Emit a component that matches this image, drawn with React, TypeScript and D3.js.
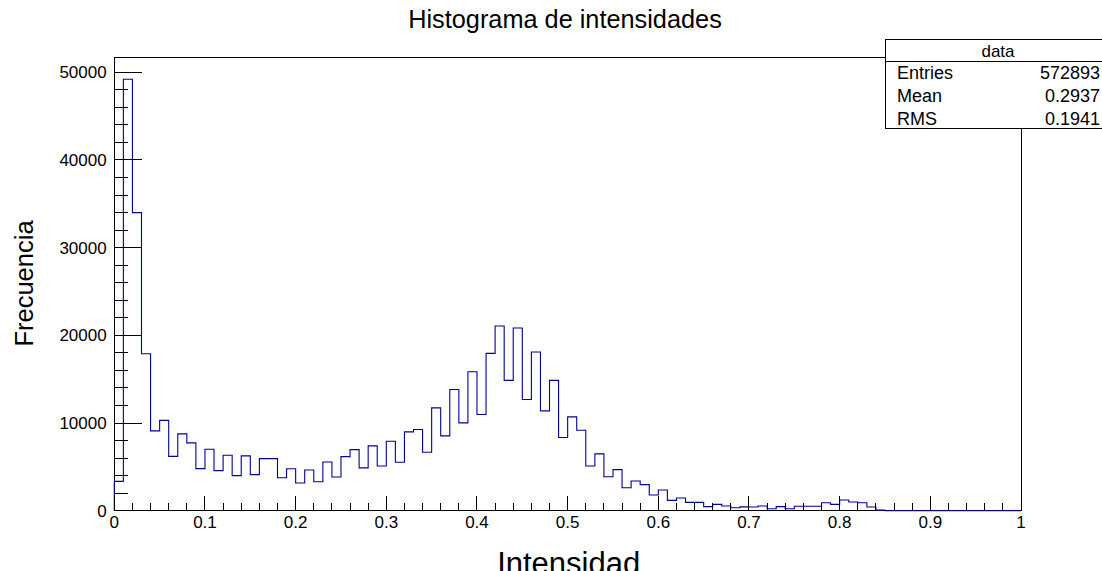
import React from "react";
import * as d3 from "d3";

// ---- data (100 bins from 0 to 1) ----
const binLow = 0;
const binHigh = 1;
const counts: number[] = [
  3350, 49200, 34000, 17900, 9100, 10300, 6200, 8760, 7730, 4800,
  7010, 4570, 6320, 4000, 6250, 4110, 5940, 5940, 3750, 4780,
  3160, 4650, 3310, 5560, 3850, 6170, 6970, 4880, 7390, 5100,
  7920, 5520, 8990, 9260, 6670, 11730, 8530, 13830, 10020, 15850,
  10970, 17940, 21070, 14860, 20840, 12690, 18100, 11390, 14860, 8340,
  10700, 9180, 5100, 6480, 3880, 4690, 2610, 3390, 2970, 1790,
  2360, 1180, 1450, 950, 950, 460, 720, 530, 340, 440,
  420, 530, 230, 460, 230, 500, 500, 500, 910, 720,
  1220, 990, 910, 420, 80, 0, 0, 0, 0, 0,
  0, 0, 0, 0, 0, 0, 0, 0, 0, 0,
];
const xMajorTicks = [0, 0.1, 0.2, 0.3, 0.4, 0.5, 0.6, 0.7, 0.8, 0.9, 1];
const xTickLabels = ["0", "0.1", "0.2", "0.3", "0.4", "0.5", "0.6", "0.7", "0.8", "0.9", "1"];
const yMajorTicks = [0, 10000, 20000, 30000, 40000, 50000];
const yTickLabels = ["0", "10000", "20000", "30000", "40000", "50000"];
const title = "Histograma de intensidades";
const xTitle = "Intensidad";
const yTitle = "Frecuencia";
const statsName = "data";
const statsLabels = ["Entries", "Mean", "RMS"];
const statsValues = ["572893", "0.2937", "0.1941"];

const W = 1102;
const H = 571;
const FONT = "'Liberation Sans', Arial, Helvetica, sans-serif";

export default function App() {
  const left = 114.3, right = 1021, top = 57.3, bottom = 510.7;
  const ymax = d3.max(counts)! * 1.051;
  const x = d3.scaleLinear().domain([binLow, binHigh]).range([left, right]);
  const y = d3.scaleLinear().domain([0, ymax]).range([bottom, top]);
  const nb = counts.length;
  const bw = (binHigh - binLow) / nb;

  const pts: [number, number][] = [[binLow, 0]];
  counts.forEach((c, i) => pts.push([binLow + i * bw, c]));
  pts.push([binHigh, counts[nb - 1]]);
  pts.push([binHigh, 0]);
  const line = d3
    .line<[number, number]>()
    .x((d) => x(d[0]))
    .y((d) => y(d[1]))
    .curve(d3.curveStepAfter);
  const histPath = line(pts) || "";

  const xMinor = d3.range(0, 51).map((i) => i * 0.02).filter((v) => Math.round(v * 100) % 10 !== 0);
  const yMinor = d3.range(0, 26).map((i) => i * 2000).filter((v) => v % 10000 !== 0 && v <= ymax);

  const sx = 885, sy = 39.3, sw = 240, sh = 89;

  return (
    <svg
      width={W}
      height={H}
      style={{ position: "absolute", left: 0, top: 0, background: "#fff" }}
      fontFamily={FONT}
    >
      <rect x={0} y={0} width={W} height={H} fill="#fff" />
      {/* frame */}
      <rect x={left} y={top} width={right - left} height={bottom - top} fill="none" stroke="#000" strokeWidth={1} shapeRendering="crispEdges" />
      {/* histogram */}
      <path d={histPath} fill="none" stroke="#000099" strokeWidth={1.1} />
      {/* x axis ticks */}
      {xMajorTicks.map((t) => (
        <line key={"xM" + t} x1={x(t)} x2={x(t)} y1={bottom} y2={bottom - 14.5} stroke="#000" shapeRendering="crispEdges" />
      ))}
      {xMinor.map((t) => (
        <line key={"xm" + t} x1={x(t)} x2={x(t)} y1={bottom} y2={bottom - 7.5} stroke="#000" shapeRendering="crispEdges" />
      ))}
      {xMajorTicks.map((t, i) => (
        <text key={"xl" + t} x={x(t)} y={528} fontSize={17} textAnchor="middle" fill="#000">
          {xTickLabels[i]}
        </text>
      ))}
      {/* y axis ticks */}
      {yMajorTicks.map((t) => (
        <line key={"yM" + t} x1={left} x2={left + 27.5} y1={y(t)} y2={y(t)} stroke="#000" shapeRendering="crispEdges" />
      ))}
      {yMinor.map((t) => (
        <line key={"ym" + t} x1={left} x2={left + 14} y1={y(t)} y2={y(t)} stroke="#000" shapeRendering="crispEdges" />
      ))}
      {yMajorTicks.map((t, i) => (
        <text key={"yl" + t} x={106.7} y={y(t) + 6} fontSize={17} textAnchor="end" fill="#000">
          {yTickLabels[i]}
        </text>
      ))}
      {/* titles */}
      <text x={565} y={28} fontSize={25.3} textAnchor="middle" fill="#000">
        {title}
      </text>
      <text x={568.7} y={573.5} fontSize={31} textAnchor="middle" fill="#000">
        {xTitle}
      </text>
      <text transform={`translate(33.3,283.5) rotate(-90)`} fontSize={25.5} textAnchor="middle" fill="#000">
        {yTitle}
      </text>
      {/* stats box */}
      <rect x={sx} y={sy} width={sw} height={sh} fill="#fff" stroke="#000" strokeWidth={1} shapeRendering="crispEdges" />
      <line x1={sx} x2={sx + sw} y1={61.7} y2={61.7} stroke="#000" shapeRendering="crispEdges" />
      <text x={998} y={56.5} fontSize={17} textAnchor="middle" fill="#000">
        {statsName}
      </text>
      {statsLabels.map((l, i) => (
        <g key={l}>
          <text x={897} y={79.3 + i * 22.7} fontSize={18} fill="#000">
            {l}
          </text>
          <text x={1100} y={79.3 + i * 22.7} fontSize={18} textAnchor="end" fill="#000">
            {statsValues[i]}
          </text>
        </g>
      ))}
    </svg>
  );
}
